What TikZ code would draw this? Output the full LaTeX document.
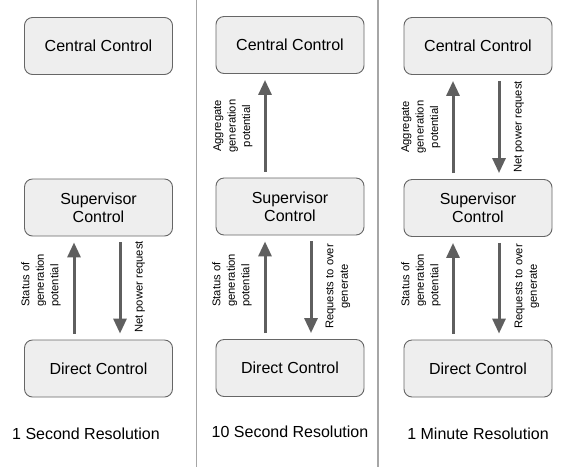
\documentclass[tikz,border=0pt]{standalone}
\usepackage{fontspec}
\setmainfont{Liberation Sans}
\usetikzlibrary{arrows.meta}
\definecolor{boxfill}{HTML}{EEEEEE}
\definecolor{boxline}{HTML}{666666}
\definecolor{arrcol}{HTML}{5F5F5F}
\definecolor{divcol}{HTML}{A6A6A6}
\begin{document}
\begin{tikzpicture}[x=1pt,y=-1pt,
 ctrl/.style={draw=boxline, line width=0.9pt, fill=boxfill, rounded corners=8pt, minimum width=148pt, minimum height=57pt, inner sep=0pt, align=center, font=\fontsize{16}{18}\selectfont},
 arr/.style={draw=arrcol, line width=3pt, -{Triangle[width=13pt,length=15pt]}, shorten >=6pt, shorten <=6pt},
 lbl/.style={rotate=90, align=center, inner sep=0pt, font=\fontsize{11.2}{14.5}\selectfont},
 stat/.style={lbl, align=left, anchor=west},
 res/.style={anchor=base, inner sep=0pt, font=\fontsize{16}{18}\selectfont},
 divider/.style={draw=divcol, line width=1.3pt}]
\useasboundingbox (0,0) rectangle (581,467);
\fill[white] (0,0) rectangle (581,467);
% dividers
\coordinate (d1t) at (196.5,0); \coordinate (d1b) at (196.5,467);
\coordinate (d2t) at (378,0); \coordinate (d2b) at (378,467);
\draw[divider] (d1t) -- (d1b);
\draw[divider] (d2t) -- (d2b);
% panel 1
\node[ctrl] (c1) at (98.5,46) {Central Control};
\node[ctrl] (s1) at (98.5,207.5) {Supervisor\\Control};
\node[ctrl] (r1) at (98.5,368.5) {Direct Control};
% panel 2
\node[ctrl] (c2) at (290,45) {Central Control};
\node[ctrl] (s2) at (290,206.5) {Supervisor\\Control};
\node[ctrl] (r2) at (290,368) {Direct Control};
% panel 3
\node[ctrl] (c3) at (478,46) {Central Control};
\node[ctrl] (s3) at (478,208) {Supervisor\\Control};
\node[ctrl] (r3) at (478,368.5) {Direct Control};
% arrow columns
\coordinate (u1) at (74,0); \coordinate (w1) at (120,0);
\coordinate (u2) at (265,0); \coordinate (w2) at (311,0);
\coordinate (u3) at (453,0); \coordinate (w3) at (499,0);
% arrows panel 1
\draw[arr] (r1.north -| u1) -- (s1.south -| u1);
\draw[arr] (s1.south -| w1) -- (r1.north -| w1);
% arrows panel 2
\draw[arr] (s2.north -| u2) -- (c2.south -| u2);
\draw[arr] (r2.north -| u2) -- (s2.south -| u2);
\draw[arr] (s2.south -| w2) -- (r2.north -| w2);
% arrows panel 3
\draw[arr] (s3.north -| u3) -- (c3.south -| u3);
\draw[arr] (c3.south -| w3) -- (s3.north -| w3);
\draw[arr] (r3.north -| u3) -- (s3.south -| u3);
\draw[arr] (s3.south -| w3) -- (r3.north -| w3);
% labels
\node[stat] (l1s) at (41,307) {Status of\\generation\\potential};
\node[lbl] (l1n) at (140,287) {Net power request};
\node[lbl] (l2a) at (233,126) {Aggregate\\generation\\potential};
\node[stat] (l2s) at (232,307) {Status of\\generation\\potential};
\node[lbl] (l2r) at (338,286.5) {Requests to over\\generate};
\node[lbl] (l3a) at (421,127) {Aggregate\\generation\\potential};
\node[lbl] (l3n) at (519,127) {Net power request};
\node[stat] (l3s) at (421,307) {Status of\\generation\\potential};
\node[lbl] (l3r) at (527,286.5) {Requests to over\\generate};
% resolutions
\node[res] (t1) at (86,439) {1 Second Resolution};
\node[res] (t2) at (290,437) {10 Second Resolution};
\node[res] (t3) at (478,439) {1 Minute Resolution};
\end{tikzpicture}
\end{document}
